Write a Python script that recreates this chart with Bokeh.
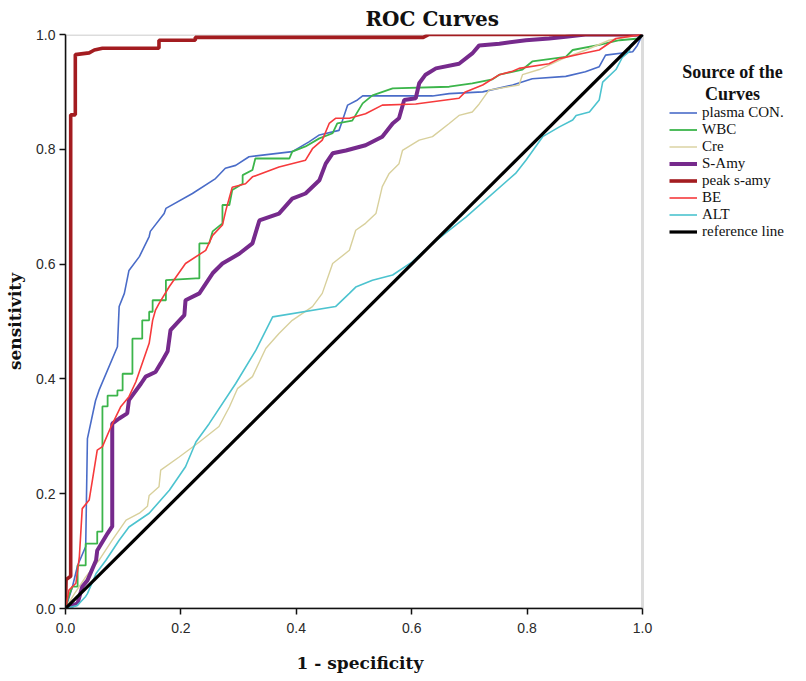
import math
from bokeh.plotting import figure
from bokeh.models import Range1d, Legend, LegendItem, FixedTicker, Label, BoxAnnotation
from bokeh.embed import file_html
from bokeh.resources import INLINE

# ---------------- data ----------------
plasma_x = [0, 0.003, 0.012, 0.021, 0.035, 0.038, 0.052, 0.058, 0.09, 0.093, 0.102, 0.11, 0.128, 0.145, 0.147,
            0.171, 0.174, 0.22, 0.26, 0.277, 0.295, 0.318, 0.393, 0.422, 0.44, 0.474, 0.48, 0.489, 0.506, 0.515,
            0.636, 0.665, 0.723, 0.775, 0.809, 0.867, 0.901, 0.925, 0.936, 0.983, 0.991, 1.0]
plasma_y = [0, 0.009, 0.038, 0.075, 0.108, 0.296, 0.362, 0.38, 0.456, 0.526, 0.549, 0.589, 0.613, 0.648, 0.657,
            0.688, 0.697, 0.723, 0.749, 0.767, 0.772, 0.787, 0.796, 0.813, 0.825, 0.833, 0.85, 0.877, 0.886, 0.893,
            0.893, 0.897, 0.9, 0.912, 0.923, 0.927, 0.935, 0.944, 0.964, 0.97, 0.981, 1.0]

wbc_x = [0, 0.005, 0.012, 0.021, 0.021, 0.035, 0.035, 0.055, 0.055, 0.064, 0.064, 0.073, 0.073, 0.09, 0.09,
         0.099, 0.099, 0.116, 0.116, 0.133, 0.133, 0.145, 0.145, 0.151, 0.151, 0.174, 0.174, 0.226, 0.232, 0.232,
         0.249, 0.255, 0.272, 0.272, 0.284, 0.289, 0.307, 0.307, 0.324, 0.329, 0.388, 0.393, 0.416, 0.44, 0.463,
         0.471, 0.497, 0.515, 0.532, 0.567, 0.665, 0.705, 0.74, 0.752, 0.792, 0.809, 0.867, 0.879, 0.925, 0.96,
         0.994, 1.0]
wbc_y = [0, 0.02, 0.038, 0.038, 0.075, 0.075, 0.113, 0.113, 0.134, 0.134, 0.352, 0.352, 0.371, 0.371, 0.38,
         0.38, 0.409, 0.409, 0.47, 0.47, 0.502, 0.502, 0.517, 0.517, 0.537, 0.537, 0.572, 0.575, 0.575, 0.636,
         0.636, 0.657, 0.671, 0.703, 0.703, 0.729, 0.74, 0.755, 0.764, 0.784, 0.784, 0.796, 0.805, 0.819, 0.828,
         0.845, 0.85, 0.88, 0.894, 0.906, 0.909, 0.915, 0.922, 0.93, 0.939, 0.953, 0.961, 0.973, 0.982, 0.99,
         0.993, 1.0]

cre_x = [0, 0.015, 0.035, 0.058, 0.081, 0.105, 0.128, 0.142, 0.145, 0.162, 0.165, 0.197, 0.232, 0.266, 0.284,
         0.298, 0.324, 0.347, 0.37, 0.393, 0.428, 0.445, 0.463, 0.492, 0.503, 0.52, 0.538, 0.549, 0.561, 0.578,
         0.584, 0.613, 0.636, 0.665, 0.682, 0.705, 0.717, 0.734, 0.786, 0.792, 0.821, 0.867, 0.902, 0.942, 1.0]
cre_y = [0, 0.025, 0.055, 0.084, 0.119, 0.154, 0.166, 0.178, 0.197, 0.212, 0.241, 0.264, 0.29, 0.317, 0.351,
         0.383, 0.404, 0.453, 0.479, 0.502, 0.526, 0.549, 0.601, 0.624, 0.659, 0.671, 0.688, 0.735, 0.758, 0.775,
         0.798, 0.816, 0.822, 0.845, 0.859, 0.865, 0.879, 0.903, 0.912, 0.93, 0.939, 0.96, 0.973, 0.99, 1.0]

samy_x = [0, 0.021, 0.029, 0.038, 0.053, 0.055, 0.073, 0.081, 0.081, 0.093, 0.107, 0.11, 0.131, 0.139, 0.156,
          0.165, 0.177, 0.182, 0.206, 0.208, 0.232, 0.255, 0.272, 0.301, 0.324, 0.336, 0.37, 0.393, 0.416, 0.44,
          0.451, 0.463, 0.486, 0.52, 0.549, 0.567, 0.578, 0.587, 0.607, 0.613, 0.624, 0.642, 0.682, 0.705, 0.717,
          0.752, 0.798, 0.838, 0.867, 0.901, 1.0]
samy_y = [0, 0.009, 0.038, 0.049, 0.084, 0.101, 0.131, 0.143, 0.322, 0.331, 0.34, 0.363, 0.392, 0.404, 0.412,
          0.427, 0.448, 0.485, 0.511, 0.537, 0.549, 0.584, 0.601, 0.618, 0.636, 0.676, 0.688, 0.714, 0.723, 0.746,
          0.775, 0.793, 0.798, 0.807, 0.822, 0.845, 0.854, 0.886, 0.889, 0.915, 0.93, 0.941, 0.949, 0.967, 0.981,
          0.984, 0.99, 0.993, 0.996, 1.0, 1.0]

peak_x = [0, 0.001, 0.003, 0.009, 0.009, 0.017, 0.017, 0.041, 0.05, 0.064, 0.162, 0.162, 0.225, 0.225, 0.62,
          0.63, 1.0]
peak_y = [0, 0.05, 0.052, 0.056, 0.86, 0.86, 0.965, 0.968, 0.973, 0.976, 0.976, 0.99, 0.99, 0.995, 0.995,
          1.0, 1.0]

be_x = [0, 0.006, 0.018, 0.024, 0.029, 0.041, 0.047, 0.055, 0.064, 0.079, 0.096, 0.11, 0.122, 0.145, 0.151,
        0.156, 0.162, 0.18, 0.208, 0.243, 0.255, 0.272, 0.278, 0.289, 0.312, 0.324, 0.37, 0.416, 0.428, 0.445,
        0.457, 0.468, 0.492, 0.52, 0.549, 0.607, 0.682, 0.693, 0.723, 0.752, 0.775, 0.786, 0.838, 0.856, 0.896,
        0.925, 0.954, 1.0]
be_y = [0, 0.032, 0.044, 0.09, 0.174, 0.189, 0.226, 0.276, 0.282, 0.317, 0.352, 0.369, 0.395, 0.462, 0.502,
        0.52, 0.531, 0.561, 0.601, 0.624, 0.65, 0.668, 0.694, 0.734, 0.74, 0.752, 0.769, 0.781, 0.801, 0.816,
        0.845, 0.854, 0.854, 0.862, 0.877, 0.879, 0.889, 0.9, 0.912, 0.93, 0.936, 0.941, 0.949, 0.958, 0.967,
        0.973, 0.993, 1.0]

alt_x = [0, 0.02, 0.035, 0.038, 0.053, 0.07, 0.093, 0.11, 0.145, 0.18, 0.208, 0.226, 0.249, 0.295, 0.33,
         0.359, 0.468, 0.492, 0.503, 0.532, 0.567, 0.601, 0.636, 0.694, 0.78, 0.798, 0.827, 0.856, 0.879, 0.885,
         0.908, 0.925, 0.931, 0.954, 0.965, 0.977, 0.979, 1.0]
alt_y = [0, 0.005, 0.021, 0.026, 0.061, 0.084, 0.119, 0.142, 0.166, 0.206, 0.247, 0.29, 0.322, 0.392, 0.45,
         0.508, 0.526, 0.549, 0.56, 0.572, 0.581, 0.604, 0.636, 0.682, 0.758, 0.781, 0.822, 0.839, 0.851, 0.859,
         0.865, 0.886, 0.917, 0.939, 0.96, 0.97, 0.981, 1.0]

ref_x = [0, 1]
ref_y = [0, 1]

series_names = ["plasma CON.", "WBC", "Cre", "S-Amy", "peak s-amy", "BE", "ALT", "reference line"]
ticks = [0.0, 0.2, 0.4, 0.6, 0.8, 1.0]
tick_labels = ["0.0", "0.2", "0.4", "0.6", "0.8", "1.0"]
x_title = "1 - specificity"
y_title = "sensitivity"

# ---------------- layout ----------------
PLOT_W = 577      # pixels for x in [0, 1]
FRAME_W = 725     # frame also holds the legend area to the right of x = 1
x_end = FRAME_W / PLOT_W

p = figure(frame_width=FRAME_W, frame_height=574, output_backend="svg", toolbar_location=None,
           title="ROC Curves", x_range=Range1d(0, x_end), y_range=Range1d(0, 1),
           min_border_left=65, min_border_right=0, min_border_top=33, min_border_bottom=58)
p.xgrid.visible = False
p.ygrid.visible = False
p.background_fill_color = "white"
p.border_fill_color = "white"
p.outline_line_color = None

# grey frame around the plotting area (top and right sides visible)
p.add_layout(BoxAnnotation(left=0, right=1, bottom=0, top=1, fill_alpha=0, line_color="#8c8c8c",
                           line_width=3, level="underlay"))

p.title.align = "left"
p.title.offset = 300
p.title.standoff = 8
p.title.text_font = "DejaVu Serif"
p.title.text_font_size = "20px"
p.title.text_font_style = "bold"
p.title.text_color = "#111111"

for ax in (p.xaxis[0], p.yaxis[0]):
    ax.ticker = FixedTicker(ticks=ticks)
    ax.major_label_overrides = {t: s for t, s in zip(ticks, tick_labels)}
    ax.bounds = (0, 1)
    ax.axis_line_color = "#111111"
    ax.axis_line_width = 1.5
    ax.major_tick_line_color = "#111111"
    ax.major_tick_line_width = 1.5
    ax.major_tick_out = 6
    ax.major_tick_in = 0
    ax.minor_tick_line_color = None
    ax.major_label_text_font = "Liberation Sans"
    ax.major_label_text_font_size = "14px"
    ax.major_label_text_color = "#2a2a2a"
    ax.axis_label_text_font = "DejaVu Serif"
    ax.axis_label_text_font_size = "17px"
    ax.axis_label_text_font_style = "bold"
    ax.axis_label_text_color = "#111111"
p.xaxis.major_label_standoff = 8
p.yaxis.major_label_standoff = 4
# the axis title is centred on the whole frame; trailing no-break spaces move it
# back over the 0..1 part of the axis
p.xaxis.axis_label = x_title + "\u00a0" * 23
p.yaxis.axis_label = y_title
p.xaxis.axis_label_standoff = 17
p.yaxis.axis_label_standoff = 8

colors = ["#4a6cc8", "#3cb54b", "#d8d09c", "#762a8c", "#a31c20", "#f63a3c", "#4cc3cf", "#000000"]
widths = [1.6, 1.8, 1.4, 4.0, 3.6, 1.6, 1.6, 3.2]
xs = [plasma_x, wbc_x, cre_x, samy_x, peak_x, be_x, alt_x, ref_x]
ys = [plasma_y, wbc_y, cre_y, samy_y, peak_y, be_y, alt_y, ref_y]

renderers = []
for x, y, c, w in zip(xs, ys, colors, widths):
    r = p.line(x, y, line_color=c, line_width=w)
    renderers.append(r)

legend = Legend(items=[LegendItem(label=n, renderers=[r]) for n, r in zip(series_names, renderers)],
                location=(604, 368), padding=0, margin=0, spacing=0,
                glyph_width=28, glyph_height=17, label_height=17, label_standoff=5,
                label_text_font="Liberation Serif", label_text_font_size="15px",
                label_text_color="#111111",
                border_line_color=None, background_fill_alpha=0)
p.add_layout(legend, "center")

leg_title = dict(text_font="Liberation Serif", text_font_size="18px", text_font_style="bold",
                 text_color="#111111", text_align="center", text_baseline="alphabetic")
p.add_layout(Label(x=1.156, y=0.9355, text="Source of the", **leg_title))
p.add_layout(Label(x=1.156, y=0.897, text="Curves", **leg_title))

open("out.html", "w").write(file_html(p, INLINE))
